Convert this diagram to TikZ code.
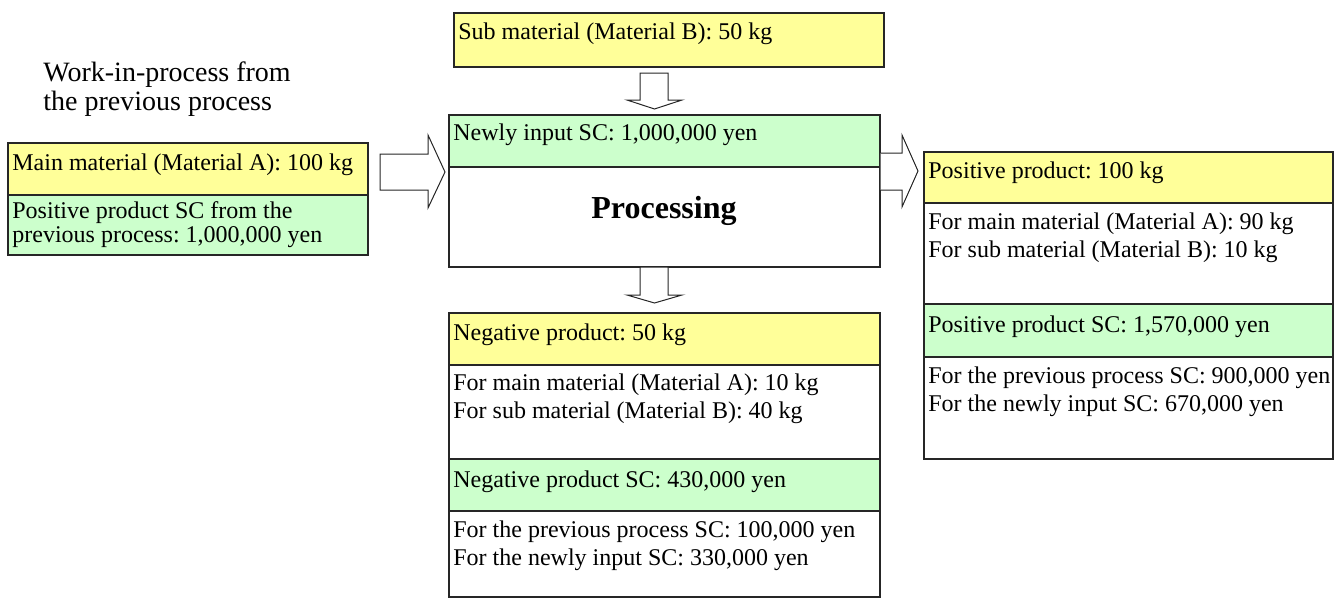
\documentclass[tikz,border=0pt]{standalone}
\usepackage{fontspec}
\setmainfont{Liberation Serif}
\frenchspacing
\definecolor{yel}{HTML}{FFFF99}
\definecolor{grn}{HTML}{CCFFCC}
\begin{document}
\begin{tikzpicture}[x=0.5pt,y=-0.5pt,
  sect/.style={draw=black!85, line width=0.8pt, inner sep=0pt, anchor=north west, rectangle},
  ysect/.style={sect, fill=yel},
  gsect/.style={sect, fill=grn},
  wsect/.style={sect, fill=white},
  txt/.style={inner sep=0pt, anchor=base west, font=\fontsize{12}{14}\selectfont},
  blockarrow/.style={draw=black!85, line width=0.5pt, fill=white, line join=miter}]
\useasboundingbox (0,0) rectangle (1341,600);

% heading
\node[txt, font=\fontsize{14}{17}\selectfont] (wip1) at (43,81) {Work-in-process from};
\node[txt, font=\fontsize{14}{17}\selectfont] (wip2) at (43,110) {the previous process};

% left box
\node[ysect, minimum width=180pt, minimum height=26pt] (ma) at (7,142) {};
\node[gsect, minimum width=180pt, minimum height=30pt] (psc) at (7,194) {};
\node[txt] (maT) at (12,170) {Main material (Material A): 100 kg};
\node[txt] (pscT1) at (12,218) {Positive product SC from the};
\node[txt] (pscT2) at (12,242) {previous process: 1,000,000 yen};

% sub material
\node[ysect, minimum width=215pt, minimum height=27pt] (sub) at (453,12) {};
\node[txt] (subT) at (458,39) {Sub material (Material B): 50 kg};

% process
\node[gsect, minimum width=215.5pt, minimum height=26pt] (nsc) at (448,114) {};
\node[wsect, minimum width=215.5pt, minimum height=50pt] (proc) at (448,166) {};
\node[txt] (nscT) at (453,140) {Newly input SC: 1,000,000 yen};
\node[inner sep=0pt, anchor=base, font=\fontsize{16}{19}\selectfont\bfseries] (procT) at (664,218) {Processing};

% right box
\node[ysect, minimum width=204.5pt, minimum height=25.5pt] (pp) at (923,151) {};
\node[wsect, minimum width=204.5pt, minimum height=50.5pt] (ppd) at (923,202) {};
\node[gsect, minimum width=204.5pt, minimum height=26.5pt] (ppsc) at (923,303) {};
\node[wsect, minimum width=204.5pt, minimum height=51pt] (ppscd) at (923,356) {};
\node[txt] (ppT) at (928,178) {Positive product: 100 kg};
\node[txt] (ppd1) at (928,229) {For main material (Material A): 90 kg};
\node[txt] (ppd2) at (928,257) {For sub material (Material B): 10 kg};
\node[txt] (ppscT) at (928,332) {Positive product SC: 1,570,000 yen};
\node[txt] (ppscd1) at (928,383) {For the previous process SC: 900,000 yen};
\node[txt] (ppscd2) at (928,411) {For the newly input SC: 670,000 yen};

% bottom box
\node[ysect, minimum width=215.5pt, minimum height=26pt] (np) at (448,312) {};
\node[wsect, minimum width=215.5pt, minimum height=47pt] (npd) at (448,364) {};
\node[gsect, minimum width=215.5pt, minimum height=26pt] (npsc) at (448,458) {};
\node[wsect, minimum width=215.5pt, minimum height=43pt] (npscd) at (448,510) {};
\node[txt] (npT) at (453,340) {Negative product: 50 kg};
\node[txt] (npd1) at (453,390) {For main material (Material A): 10 kg};
\node[txt] (npd2) at (453,418) {For sub material (Material B): 40 kg};
\node[txt] (npscT) at (453,487) {Negative product SC: 430,000 yen};
\node[txt] (npscd1) at (453,537) {For the previous process SC: 100,000 yen};
\node[txt] (npscd2) at (453,565) {For the newly input SC: 330,000 yen};

% block arrows
\draw[blockarrow] (380,154) -- (428,154) -- (428,135) -- (445,172) -- (428,208) -- (428,190) -- (380,190) -- cycle;
\draw[blockarrow] (640,73) -- (668,73) -- (668,100) -- (682,100) -- (654.5,109) -- (627,100) -- (640,100) -- cycle;
\draw[blockarrow] (640,267) -- (668,267) -- (668,295) -- (682,295) -- (654.5,303) -- (627,295) -- (640,295) -- cycle;
\draw[blockarrow] (nsc.north east |- 0,153) -- (902,153) -- (902,135) -- (918,171) -- (902,207) -- (902,190) -- (nsc.north east |- 0,190);
\end{tikzpicture}
\end{document}
